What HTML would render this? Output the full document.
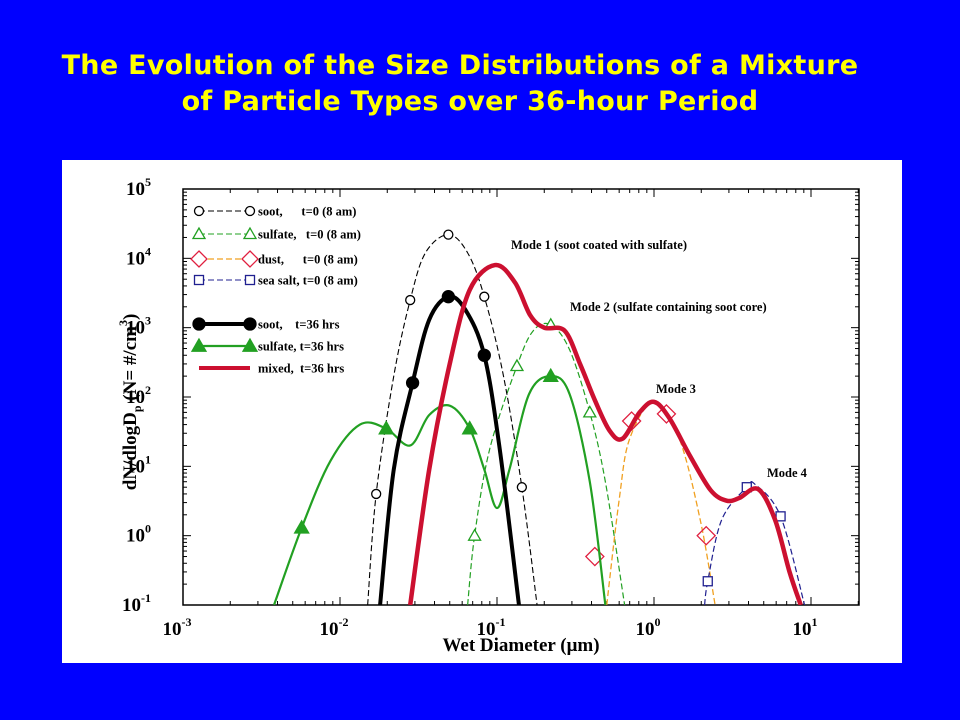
<!DOCTYPE html>
<html><head><meta charset="utf-8">
<style>
html,body{margin:0;padding:0;}
body{width:960px;height:720px;background:#0000ff;position:relative;overflow:hidden;font-family:"Liberation Sans",sans-serif;}
.title{position:absolute;left:0;width:920px;text-align:center;color:#ffff00;font-weight:bold;font-size:27px;font-family:"Comic Sans MS","DejaVu Sans","Liberation Sans",sans-serif;letter-spacing:0.3px;}
#panel{position:absolute;left:62px;top:160px;width:840px;height:503px;background:#fff;}
svg text{font-family:"Liberation Serif",serif;font-weight:bold;}
</style></head><body>
<div class="title" style="top:50px;">The Evolution of the Size Distributions of a Mixture</div>
<div class="title" style="top:86px;left:10px;">of Particle Types over 36-hour Period</div>
<div id="panel">
<svg id="chart" width="840" height="503" viewBox="62 160 840 503"></svg>
</div>
<script>
const xTickExps = [-3,-2,-1,0,1];
const yTickExps = [-1,0,1,2,3,4,5];
const sootT0D = [0.015,0.017,0.022,0.028,0.035,0.049,0.065,0.083,0.11,0.144,0.18];
const sootT0N = [0.1,4,200,2500,12000,22000,12000,2800,200,5,0.1];
const sootT0MarkD = [0.017,0.028,0.049,0.083,0.144];
const sootT0MarkN = [4,2500,22000,2800,5];
const sulfT0D = [0.065,0.072,0.09,0.134,0.17,0.22,0.29,0.39,0.49,0.65];
const sulfT0N = [0.1,1,18,280,900,1100,480,60,6,0.1];
const sulfT0MarkD = [0.072,0.134,0.22,0.39];
const sulfT0MarkN = [1,280,1100,60];
const dustD = [0.5,0.6,0.7,1.0,1.45,1.98,2.45];
const dustN = [0.1,3.3,25,85,25,1.6,0.1];
const dustMarkD = [0.42,0.72,1.2,2.15];
const dustMarkN = [0.5,45,57,1.0];
const saltD = [2.1,2.2,2.7,3.9,4.4,6.4,9.1];
const saltN = [0.1,0.22,1.7,5,5.5,1.9,0.1];
const saltMarkD = [2.2,3.9,6.4];
const saltMarkN = [0.22,5,1.9];
const soot36D = [0.018,0.022,0.029,0.037,0.049,0.063,0.083,0.104,0.138];
const soot36N = [0.1,9,160,1300,2800,1800,400,18,0.1];
const soot36MarkD = [0.029,0.049,0.083];
const soot36MarkN = [160,2800,400];
const sulf36D = [0.0038,0.0057,0.0087,0.0134,0.0197,0.028,0.037,0.05,0.067,0.083,0.1,0.12,0.16,0.22,0.29,0.39,0.49];
const sulf36N = [0.1,1.3,12,40,35,20,55,75,35,9,2.5,9,110,200,110,6,0.1];
const sulf36MarkD = [0.0057,0.0197,0.067,0.22];
const sulf36MarkN = [1.3,35,35,200];
const mixedD = [0.028,0.037,0.05,0.067,0.097,0.13,0.163,0.2,0.27,0.34,0.42,0.52,0.63,0.81,1.0,1.25,1.7,2.3,2.9,3.5,4.6,5.9,7.3,8.6];
const mixedN = [0.1,9,300,3500,8000,4500,1500,1000,900,290,90,33,25,60,85,50,14,4.5,3.2,3.5,4.7,1.7,0.3,0.1];

const L=183,R=859,T=189,B=605;
const xLo=-3,xHi=1.3;
const decX=157;
function xs(d){return L+(Math.log10(d)-xLo)*decX;}
function ys(n){return B-(Math.log10(n)+1)*(B-T)/6;}
const NS="http://www.w3.org/2000/svg";
const svg=document.getElementById('chart');
function mk(tag,attrs,parent){const e=document.createElementNS(NS,tag);for(const k in attrs)e.setAttribute(k,attrs[k]);(parent||svg).appendChild(e);return e;}

// clip
const defs=mk('defs',{});
const cp=mk('clipPath',{id:'clip'},defs);
mk('rect',{x:L,y:T,width:R-L,height:B-T},cp);

// ticks
const ticks=mk('g',{stroke:'#000','stroke-width':1});


for(let e=-3;e<=1;e++){for(let m=1;m<10;m++){const v=m*Math.pow(10,e);const x=xs(v);if(x>R)break;const len=m===1?8:4;
mk('line',{x1:x,y1:B,x2:x,y2:B-len},ticks);mk('line',{x1:x,y1:T,x2:x,y2:T+len},ticks);}}
for(let e=-1;e<5;e++){for(let m=1;m<10;m++){const v=m*Math.pow(10,e);const y=ys(v);const len=m===1?8:4;
mk('line',{x1:L,y1:y,x2:L+len,y2:y},ticks);mk('line',{x1:R,y1:y,x2:R-len,y2:y},ticks);}}
const frame=mk('rect',{x:L,y:T,width:R-L,height:B-T,fill:'none',stroke:'#000','stroke-width':1.5});



// tick labels
xTickExps.forEach(e=>{const t=mk('text',{x:xs(Math.pow(10,e))-6,y:B+30,'font-size':19,'text-anchor':'middle'});


t.textContent='10';const s=mk('tspan',{dy:-9,'font-size':12},t);s.textContent=String(e);});
yTickExps.forEach(e=>{const t=mk('text',{x:L-32,y:ys(Math.pow(10,e))+6,'font-size':19,'text-anchor':'end'});


t.textContent='10';const s=mk('tspan',{dy:-9,'font-size':12},t);s.textContent=String(e);});

// axis titles
const xt=mk('text',{x:521,y:651,'font-size':19,'text-anchor':'middle'});


xt.textContent='Wet Diameter (\u03bcm)';
const yt=mk('text',{x:0,y:0,'font-size':19,'text-anchor':'middle',transform:'translate(136,402) rotate(-90)'});


yt.textContent='dN/dlogD';const sp=mk('tspan',{dy:5,'font-size':12},yt);sp.textContent='p';
const sp2=mk('tspan',{dy:-5},yt);sp2.textContent=' (N= #/cm';
const sp3=mk('tspan',{dy:-9,'font-size':12},yt);sp3.textContent='3';
const sp4=mk('tspan',{dy:9},yt);sp4.textContent=')';

// smooth path
function pathFrom(D,N){const p=D.map((d,i)=>[xs(d),ys(N[i])]);let s='M'+p[0][0]+','+p[0][1];
for(let i=0;i<p.length-1;i++){const p0=p[i-1]||p[i],p1=p[i],p2=p[i+1],p3=p[i+2]||p2;
const c1=[p1[0]+(p2[0]-p0[0])/6,p1[1]+(p2[1]-p0[1])/6],c2=[p2[0]-(p3[0]-p1[0])/6,p2[1]-(p3[1]-p1[1])/6];
s+=` C${c1[0]},${c1[1]} ${c2[0]},${c2[1]} ${p2[0]},${p2[1]}`;}return s;}
const plot=mk('g',{'clip-path':'url(#clip)'});


function series(name,D,N,stroke,w,dash){const g=mk('g',{},plot);


mk('path',{d:pathFrom(D,N),fill:'none',stroke:stroke,'stroke-width':w,'stroke-dasharray':dash||'none'},g);return g;}
function marker(g,type,x,y,col,fill,size){
if(type==='circle')mk('circle',{cx:x,cy:y,r:size,fill:fill,stroke:col,'stroke-width':1.3},g);
else if(type==='tri')mk('polygon',{points:`${x},${y-size} ${x-size},${y+size*0.75} ${x+size},${y+size*0.75}`,fill:fill,stroke:col,'stroke-width':1.3},g);
else if(type==='diam')mk('polygon',{points:`${x},${y-size} ${x+size},${y} ${x},${y+size} ${x-size},${y}`,fill:fill,stroke:col,'stroke-width':1.3},g);
else if(type==='sq')mk('rect',{x:x-size,y:y-size,width:2*size,height:2*size,fill:fill,stroke:col,'stroke-width':1.3},g);}
function marks(g,D,N,type,col,fill,size){D.forEach((d,i)=>marker(g,type,xs(d),ys(N[i]),col,fill,size));}

let g;
g=series('series-sulfate-t0',sulfT0D,sulfT0N,'#22a022',1.2,'6,3');marks(g,sulfT0MarkD,sulfT0MarkN,'tri','#22a022','#fff',6);
g=series('series-dust-t0',dustD,dustN,'#f0a020',1.3,'6,3');marks(g,dustMarkD,dustMarkN,'diam','#e02040','none',9);
g=series('series-sea-salt-t0',saltD,saltN,'#202090',1.2,'6,3');marks(g,saltMarkD,saltMarkN,'sq','#202090','#fff',4.5);
g=series('series-soot-t0',sootT0D,sootT0N,'#000',1.1,'6,3');marks(g,sootT0MarkD,sootT0MarkN,'circle','#000','#fff',4.5);
g=series('series-sulfate-t36',sulf36D,sulf36N,'#22a022',2.2);marks(g,sulf36MarkD,sulf36MarkN,'tri','#22a022','#22a022',7);
g=series('series-soot-t36',soot36D,soot36N,'#000',4);marks(g,soot36MarkD,soot36MarkN,'circle','#000','#000',6);
series('series-mixed-t36',mixedD,mixedN,'#cc1030',4.5);

// annotations
[['Mode 1 (soot coated with sulfate)',511,249],['Mode 2 (sulfate containing soot core)',570,311],['Mode 3',656,393],['Mode 4',767,477]].forEach(a=>{
const t=mk('text',{x:a[1],y:a[2],'font-size':12.5});


t.textContent=a[0];});

// legend
const lg=mk('g',{});


const items=[
 ['soot,      t=0 (8 am)',211,'#000','6,3',1.1,'circle','#000','#fff',4.5],
 ['sulfate,   t=0 (8 am)',234,'#22a022','6,3',1.1,'tri','#22a022','#fff',6],
 ['dust,      t=0 (8 am)',259,'#f0a020','6,3',1.3,'diam','#e02040','#fff',8],
 ['sea salt, t=0 (8 am)',280,'#202090','6,3',1.1,'sq','#202090','#fff',4.5],
 ['soot,    t=36 hrs',324,'#000','none',4,'circle','#000','#000',6],
 ['sulfate, t=36 hrs',346,'#22a022','none',2.2,'tri','#22a022','#22a022',7],
 ['mixed,  t=36 hrs',368,'#cc1030','none',4,null]];
items.forEach(it=>{const e=mk('g',{},lg);


const y=it[1];mk('line',{x1:199,y1:y,x2:250,y2:y,stroke:it[2],'stroke-width':it[4],'stroke-dasharray':it[3]},e);
if(it[5]){marker(e,it[5],199,y,it[6],it[7],it[8]);marker(e,it[5],250,y,it[6],it[7],it[8]);}
const t=mk('text',{x:258,y:y+4.5,'font-size':12.5,'xml:space':'preserve'},e);t.setAttribute('style','white-space:pre');t.textContent=it[0];});
</script>
</body></html>
